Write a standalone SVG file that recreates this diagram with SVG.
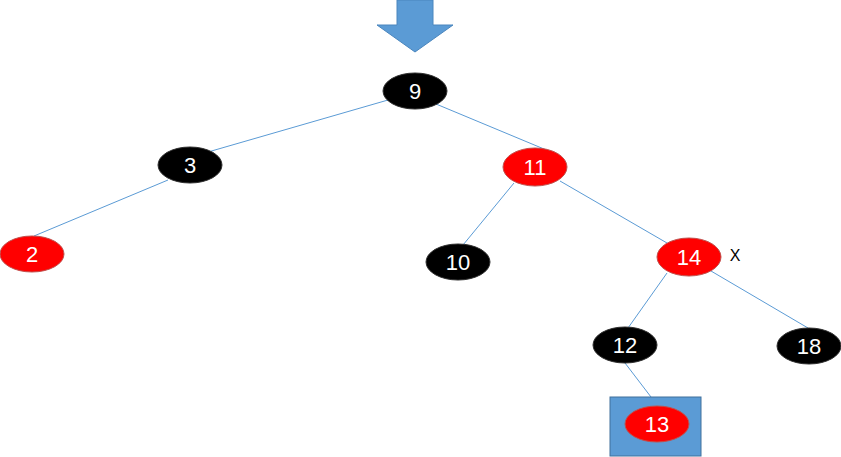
<svg xmlns="http://www.w3.org/2000/svg" width="841" height="457" viewBox="0 0 841 457">
<style>
.edge{stroke:#5B9BD5;stroke-width:1;fill:none}
.blk{fill:#000;stroke:#2F2F2F;stroke-width:1}
.red{fill:#FF0000;stroke:#C0504D;stroke-width:1}
.lbl{fill:#fff;font-family:"Liberation Sans","Noto Sans",sans-serif;font-size:22px;text-anchor:middle;dominant-baseline:central}
</style>
<rect width="841" height="457" fill="#fff"/>
<polygon points="397,0 433,0 433,25 453,25 415,52 377,25 397,25" fill="#5B9BD5" stroke="#4A86BE" stroke-width="1"/>
<g id="connectors">
<line class="edge" x1="388" y1="100" x2="208" y2="152"/>
<line class="edge" x1="436" y1="104" x2="556" y2="154"/>
<line class="edge" x1="168" y1="180" x2="34" y2="236"/>
<line class="edge" x1="514" y1="183" x2="463" y2="245"/>
<line class="edge" x1="560" y1="181" x2="667" y2="243"/>
<line class="edge" x1="667" y1="273" x2="628" y2="328"/>
<line class="edge" x1="711" y1="271" x2="808" y2="328"/>
<line class="edge" x1="625" y1="363" x2="651" y2="397"/>
</g>
<g id="n9"><ellipse class="blk" cx="415" cy="91" rx="32" ry="18"/><text class="lbl" x="415" y="91">9</text></g>
<g id="n3"><ellipse class="blk" cx="190" cy="165" rx="32" ry="18"/><text class="lbl" x="190" y="165">3</text></g>
<g id="n2"><ellipse class="red" cx="32" cy="254" rx="32" ry="18"/><text class="lbl" x="32" y="254">2</text></g>
<g id="n11"><ellipse class="red" cx="535" cy="167" rx="32" ry="19"/><text class="lbl" x="535" y="167">11</text></g>
<g id="n10"><ellipse class="blk" cx="458" cy="262" rx="32" ry="18"/><text class="lbl" x="458" y="262">10</text></g>
<g id="n14"><ellipse class="red" cx="689" cy="257" rx="32" ry="19"/><text class="lbl" x="689" y="257">14</text></g>
<g id="x"><text x="735" y="255" font-family="Liberation Sans,Noto Sans,sans-serif" font-size="16" fill="#000" text-anchor="middle" dominant-baseline="central">X</text></g>
<g id="n12"><ellipse class="blk" cx="625" cy="345" rx="32" ry="18"/><text class="lbl" x="625" y="345">12</text></g>
<g id="n18"><ellipse class="blk" cx="809" cy="346" rx="32" ry="18"/><text class="lbl" x="809" y="346">18</text></g>
<g id="n13"><rect x="610" y="397" width="91" height="59" fill="#5B9BD5" stroke="#41719C" stroke-width="1"/><ellipse class="red" cx="657" cy="424" rx="32" ry="18"/><text class="lbl" x="657" y="424">13</text></g>
</svg>
